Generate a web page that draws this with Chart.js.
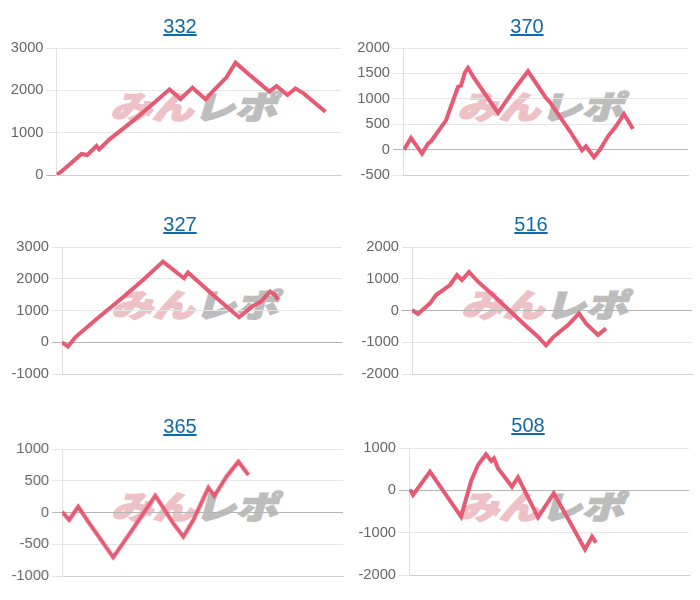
<!DOCTYPE html>
<html><head><meta charset="utf-8">
<script src="https://cdn.jsdelivr.net/npm/chart.js@4"></script>
<style>
html,body{margin:0;padding:0;background:#fff;width:700px;height:600px;overflow:hidden}
canvas{position:absolute;z-index:2}
a.t{position:absolute;z-index:3;font:20px "Liberation Sans",Arial,sans-serif;color:#0f6aa6;text-decoration:underline;width:100px;text-align:center;line-height:24px}
.wm{position:absolute;z-index:1;width:170px;height:30px;font-family:"Noto Sans CJK JP";font-weight:900;font-size:40px;line-height:30px;white-space:nowrap;transform-origin:0 50%;transform:scale(1.04,.8) skewX(-12deg);-webkit-text-stroke:2px currentColor}
.wm .r{color:#edc1c5}.wm .g{color:#bdbdbd}
</style></head><body>
<script>
const titles=["332","370","327","516","365","508"];
const x332=[0,6.7,15,25,30.7,40,42.7,53,76.7,100,113,124,136,149,157,170,179,192,213,220,231,239,247,269];
const y332=[0,118,291,496,472,685,606,843,1284,1756,2024,1795,2063,1788,1992,2307,2654,2386,1969,2102,1890,2047,1929,1496];
const x370=[1,8,19,25,28,43,55,58,62,65,71,95,113,125,143,147,167,179,183,191,197,205,213,221,230];
const y370=[0,230,-79,118,164,577,1233,1260,1522,1607,1410,722,1233,1542,1017,932,361,-13,66,-151,0,262,459,702,407];
const x327=[0,6,13,34.3,61,81,101,122,126,154,177,191,199,208,213,216];
const y327=[0,-136,147,724,1417,1963,2541,2016,2194,1407,788,1145,1281,1596,1491,1333];
const x516=[0,6,18,24,38,45,50,57,66,81,94,111,126,134,141,156,167,174,186,194];
const y516=[16,-110,226,488,803,1118,961,1213,908,488,100,-404,-824,-1097,-845,-457,-89,-404,-772,-562];
const x365=[0,7,16,26,51,71,93,111,121,131,146,152,164,176,186];
const y365=[13,-118,92,-144,-706,-249,265,-171,-381,-118,391,260,564,801,591];
const x508=[1,4,21,52,62.3,69,77,82.3,85,89,103,109,129,144.7,157,176,183,187];
const y508=[24,-110,441,-622,236,598,850,693,756,520,87,307,-638,-71,-583,-1394,-1094,-1236];
const xSeries=[x332,x370,x327,x516,x365,x508];
const ySeries=[y332,y370,y327,y516,y365,y508];
const yMin=[0,-500,-1000,-2000,-1000,-2000];
const yMax=[3000,2000,3000,2000,1000,1000];
const yStep=[1000,500,1000,1000,500,1000];
// layout: plot left, right, top, bottom; title centre & centre line; watermark corner
const plots=[[56.5,341,48,175],[403,688,48,175],[62,342,247,374],[412,692,247,374],[62,342.5,449,576],[409,689,448,575]];
const titleAt=[[180,26],[527,26],[180,224],[531,224],[180,426],[528,425]];
const wmAt=[[114,90],[461,90],[115,288],[465,288],[115,490],[461,490]];

titles.forEach((name,i)=>{
  const [l,r,t,b]=plots[i];
  const a=document.createElement('a');a.className='t';a.href='#';a.textContent=name;
  a.style.left=(titleAt[i][0]-50)+'px';a.style.top=(titleAt[i][1]-12)+'px';document.body.appendChild(a);
  const w=document.createElement('div');w.className='wm';
  w.innerHTML='<span class="r">みん</span><span class="g">レポ</span>';
  w.style.left=wmAt[i][0]+'px';w.style.top=wmAt[i][1]+'px';document.body.appendChild(w);
  const c=document.createElement('canvas');
  const cl=Math.floor(l)-52;
  const ct=t-12;
  c.style.left=cl+'px';c.style.top=ct+'px';
  c.style.width=(r-cl+2)+'px';c.style.height=(b-t+24)+'px';
  c.width=r-cl+2;c.height=b-t+24;
  document.body.appendChild(c);
  new Chart(c,{
    type:'line',
    data:{datasets:[{
      data:xSeries[i].map((x,k)=>({x,y:ySeries[i][k]})),
      borderColor:'#e65a74',borderWidth:4,pointRadius:0,tension:0,fill:false,borderJoinStyle:'miter'
    }]},
    options:{
      responsive:false,animation:false,devicePixelRatio:1,
      layout:{autoPadding:false,padding:{top:12,bottom:12,left:0,right:2}},
      plugins:{legend:{display:false},title:{display:false},tooltip:{enabled:false}},
      scales:{
        x:{type:'linear',min:0,max:r-l,
          grid:{display:false,drawTicks:false},
          border:{display:true,color:'#cfcfcf',width:1},
          ticks:{display:false},
          afterFit(s){s.height=0;}
        },
        y:{min:yMin[i],max:yMax[i],
          ticks:{stepSize:yStep[i],color:'#666',padding:3,callback:v=>String(v),font:{family:'"Liberation Sans",Arial,sans-serif',size:14.7}},
          grid:{color:ctx=>ctx.tick&&ctx.tick.value===0?'#b4b4b4':'#e6e6e6',lineWidth:1,tickLength:10},
          border:{display:true,color:'#e0e0e0',width:1},
          afterFit(s){s.width=l-cl;}
        }
      }
    }
  });
});
</script>
</body></html>
